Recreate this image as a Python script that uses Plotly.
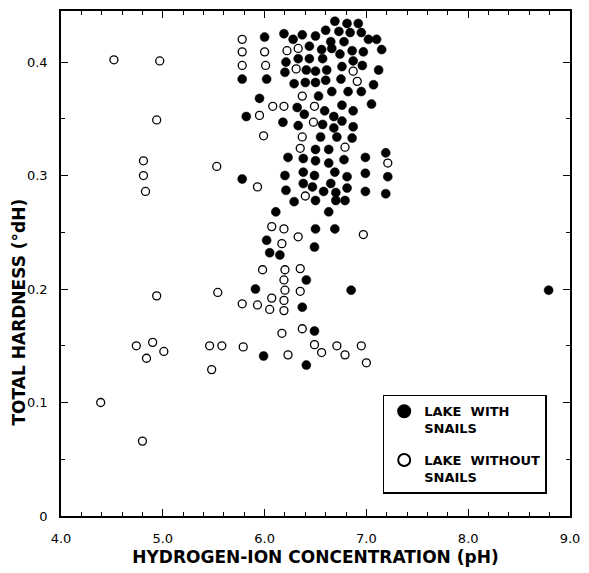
import plotly.graph_objects as go

# Lakes WITH snails (filled circles): pH, total hardness (°dH)
with_ph = [5.78, 6.00, 6.02, 6.19, 6.28, 6.37, 6.50, 6.60, 6.69, 6.81, 6.92, 6.73, 6.84, 6.95,
           7.02, 7.10, 6.65, 6.78, 6.44, 6.56, 6.66, 6.74, 6.86, 6.97, 7.15, 6.33, 6.44, 6.57,
           6.21, 6.41, 6.50, 6.61, 6.76, 6.87, 6.96, 7.12, 6.20, 6.29, 6.40, 6.50, 6.60, 6.75,
           7.07, 6.53, 6.66, 6.82, 6.95, 7.05, 5.95, 6.32, 6.59, 6.76, 6.87, 6.39, 6.68, 5.82,
           6.18, 6.33, 6.76, 6.87, 6.57, 6.68, 6.55, 6.71, 6.86, 6.50, 6.63, 6.23, 6.38, 6.50,
           6.63, 6.78, 6.99, 5.78, 6.20, 6.38, 6.49, 6.69, 6.81, 6.99, 6.21, 6.38, 6.47, 6.58,
           6.65, 6.70, 6.81, 6.99, 6.29, 6.50, 6.70, 6.79, 6.11, 6.63,
           7.19, 7.21, 7.19, 6.85, 8.79,
           6.50, 6.69, 6.02, 6.49, 6.05, 6.15, 6.41, 5.91, 6.37,
           6.49, 5.99, 6.41]
with_dh = [0.385, 0.422, 0.385, 0.425, 0.420, 0.424, 0.423, 0.428, 0.436, 0.434, 0.434, 0.427, 0.426, 0.426,
           0.420, 0.420, 0.418, 0.418, 0.414, 0.411, 0.412, 0.407, 0.410, 0.409, 0.411, 0.403, 0.403, 0.403,
           0.400, 0.393, 0.392, 0.393, 0.396, 0.401, 0.397, 0.393, 0.391, 0.381, 0.382, 0.382, 0.384, 0.385,
           0.380, 0.370, 0.374, 0.374, 0.374, 0.363, 0.368, 0.360, 0.357, 0.362, 0.357, 0.354, 0.352, 0.352,
           0.347, 0.344, 0.348, 0.343, 0.345, 0.342, 0.334, 0.334, 0.333, 0.323, 0.323, 0.316, 0.315, 0.313,
           0.311, 0.314, 0.316, 0.297, 0.300, 0.303, 0.300, 0.303, 0.299, 0.302, 0.287, 0.293, 0.290, 0.286,
           0.293, 0.285, 0.289, 0.286, 0.277, 0.278, 0.278, 0.278, 0.268, 0.268,
           0.320, 0.299, 0.284, 0.199, 0.199,
           0.253, 0.253, 0.243, 0.237, 0.232, 0.230, 0.208, 0.200, 0.184,
           0.163, 0.141, 0.133]

# Lakes WITHOUT snails (open circles)
without_ph = [5.78, 5.78, 5.78, 6.00, 6.01, 6.22, 6.33, 6.31, 6.87, 6.91, 6.37, 6.08, 6.19, 6.49, 5.95,
              6.48, 5.99, 6.37, 6.35, 6.79, 5.93, 6.40,
              7.21, 6.97,
              6.07, 6.19, 6.33, 6.17, 5.98, 6.20, 6.35, 6.19, 6.20, 6.35, 6.07, 6.19, 5.78, 5.93, 6.05, 6.19,
              6.17, 6.37, 5.79, 6.23, 6.49, 6.56, 6.71, 6.79, 6.95, 7.00,
              4.52, 4.97, 4.94, 4.81, 5.53, 4.81, 4.83,
              4.94, 5.54, 4.74, 4.90, 5.01, 4.84, 5.46, 5.58, 5.48, 4.39, 4.80]
without_dh = [0.420, 0.409, 0.397, 0.409, 0.397, 0.410, 0.412, 0.394, 0.392, 0.383, 0.370, 0.361, 0.361, 0.361, 0.353,
              0.347, 0.335, 0.334, 0.324, 0.325, 0.290, 0.282,
              0.311, 0.248,
              0.255, 0.253, 0.246, 0.240, 0.217, 0.217, 0.218, 0.208, 0.199, 0.198, 0.192, 0.190, 0.187, 0.186, 0.182, 0.181,
              0.161, 0.165, 0.149, 0.142, 0.151, 0.144, 0.150, 0.142, 0.150, 0.135,
              0.402, 0.401, 0.349, 0.313, 0.308, 0.300, 0.286,
              0.194, 0.197, 0.150, 0.153, 0.145, 0.139, 0.150, 0.150, 0.129, 0.100, 0.066]

x_ticks = [4, 5, 6, 7, 8, 9]
x_ticktext = ["4.0", "5.0", "6.0", "7.0", "8.0", "9.0"]
y_ticks = [0, 0.1, 0.2, 0.3, 0.4]
y_ticktext = ["0", "0.1", "0.2", "0.3", "0.4"]

FONT = "DejaVu Sans"

fig = go.Figure()
fig.add_trace(go.Scatter(
    x=with_ph, y=with_dh, mode="markers",
    name="LAKE\u00a0\u00a0WITH<br>SNAILS", legendgroup="with",
    marker=dict(symbol="circle", size=9, color="black", line=dict(color="black", width=0.5)),
))
fig.add_trace(go.Scatter(
    x=without_ph, y=without_dh, mode="markers",
    name="LAKE\u00a0\u00a0WITHOUT<br>SNAILS", legendgroup="without",
    marker=dict(symbol="circle", size=8, color="white", line=dict(color="black", width=1.3)),
))

axis_common = dict(
    showline=True, linecolor="black", linewidth=1.5, mirror="ticks",
    ticks="inside", ticklen=7, tickwidth=1.2, tickcolor="black",
    showgrid=False, zeroline=False,
    tickfont=dict(family=FONT, size=13, color="black"),
)

fig.update_xaxes(
    range=[4, 9], tickvals=x_ticks, ticktext=x_ticktext,
    minor=dict(dtick=0.2, ticks="inside", ticklen=4, tickwidth=1, tickcolor="black"),
    ticklabelstandoff=10,
    title=dict(text="HYDROGEN-ION CONCENTRATION (pH)",
               font=dict(family=FONT, size=17, color="black", weight="bold"),
               standoff=6),
    **axis_common,
)
fig.update_yaxes(
    range=[0, 0.445], tickvals=y_ticks, ticktext=y_ticktext,
    minor=dict(dtick=0.05, ticks="inside", ticklen=4, tickwidth=1, tickcolor="black"),
    ticklabelstandoff=9,
    **axis_common,
)

fig.add_annotation(
    text="TOTAL HARDNESS (°dH)", textangle=-90,
    xref="paper", yref="y", x=-0.083, y=0.18, xanchor="center", yanchor="middle",
    showarrow=False, font=dict(family=FONT, size=17, color="black", weight="bold"),
)

fig.update_layout(
    width=589, height=573,
    margin=dict(l=61, r=9, t=11, b=46),
    paper_bgcolor="white", plot_bgcolor="white",
    font=dict(family=FONT, color="black"),
    showlegend=True,
    legend=dict(
        x=0.632, y=0.24, xanchor="left", yanchor="top",
        bgcolor="white", bordercolor="black", borderwidth=1.5,
        font=dict(family=FONT, size=13, color="black", weight="bold"),
        valign="top", itemsizing="constant",
        tracegroupgap=12,
    ),
)

fig.write_html("out.html")
